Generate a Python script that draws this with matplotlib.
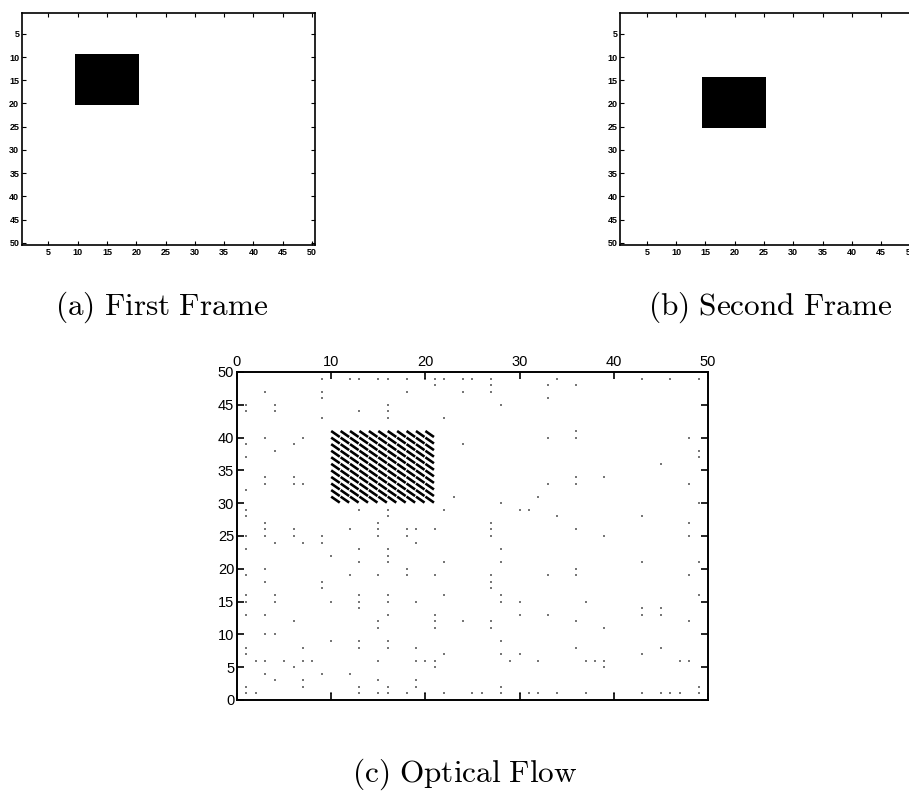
import numpy as np
import matplotlib
matplotlib.use('Agg')
import matplotlib.pyplot as plt

plt.rcParams['mathtext.fontset'] = 'cm'
plt.rcParams['font.family'] = ['Liberation Sans', 'DejaVu Sans']

# 50x50 frames, black square given by (first, last) row / column, 1-based
img_size = 50
block1_rows = (10, 20)
block1_cols = (10, 20)
block2_rows = (15, 25)
block2_cols = (15, 25)

# flow field over the moving square: one vector per grid point
flow_x = np.arange(10, 21)
flow_y = np.arange(31, 42)
flow_u = 1.0
flow_v = -1.0

# leftover tiny flow vectors (row y -> columns x)
noise_rows = {
    49: [9, 12, 13, 15, 16, 18, 20, 21, 22, 24, 25, 27, 34, 43, 46, 49],
    48: [21, 27, 33, 36],
    47: [3, 9, 18, 24, 27],
    46: [9, 33],
    45: [1, 4, 16, 28],
    44: [1, 4, 13, 16],
    43: [9, 16, 22],
    41: [36],
    40: [3, 7, 33, 36, 48],
    39: [1, 6, 24],
    38: [4, 49],
    37: [1, 49],
    36: [45],
    34: [3, 6, 36, 39],
    33: [3, 6, 7, 33, 36, 48],
    32: [1],
    31: [23, 32],
    30: [28, 49],
    29: [1, 13, 16, 22, 30, 31],
    28: [1, 16, 34, 43],
    27: [3, 15, 27, 48],
    26: [3, 6, 12, 15, 18, 19, 21, 27, 36],
    25: [1, 3, 6, 9, 15, 18, 27, 39, 48],
    24: [4, 7, 9, 19],
    23: [1, 13, 16, 28],
    22: [10, 16],
    21: [13, 16, 22, 28, 43, 49],
    20: [3, 18, 36],
    19: [1, 12, 15, 18, 21, 27, 33, 36, 48],
    18: [3, 9, 27],
    17: [9, 27],
    16: [1, 4, 13, 16, 22, 28, 49],
    15: [1, 4, 10, 13, 16, 19, 28, 30, 37],
    14: [13, 43, 45],
    13: [1, 3, 16, 21, 30, 33, 43, 45],
    12: [6, 15, 21, 24, 27, 36, 48],
    11: [15, 21, 27, 39],
    10: [3, 4],
    9: [10, 13, 16, 28],
    8: [1, 7, 13, 16, 19, 36, 45],
    7: [1, 22, 28, 30, 43],
    6: [2, 3, 5, 7, 8, 15, 19, 20, 21, 29, 32, 37, 38, 39, 47, 48],
    5: [6, 21, 39],
    4: [3, 9, 12],
    3: [4, 7, 15, 19],
    2: [1, 7, 13, 16, 19, 28, 49],
    1: [1, 2, 10, 13, 15, 16, 18, 20, 22, 25, 26, 28, 30, 31, 32, 34, 37,
        40, 43, 45, 46, 47, 49],
}

frame_ticks = list(range(5, 51, 5))
flow_xticks = list(range(0, 51, 10))
flow_yticks = list(range(0, 51, 5))


def make_frame(rows, cols):
    f = np.ones((img_size, img_size))
    f[rows[0] - 1:rows[1], cols[0] - 1:cols[1]] = 0
    return f


def draw_frame(ax, frame):
    ax.imshow(frame, cmap='gray', vmin=0, vmax=1, aspect='auto',
              interpolation='nearest',
              extent=(0.5, img_size + 0.5, img_size + 0.5, 0.5))
    ax.set_xticks(frame_ticks)
    ax.set_yticks(frame_ticks)
    ax.tick_params(direction='in', length=3, width=0.8, top=True, right=True,
                   labelsize=6.5, pad=2)
    for lab in ax.get_xticklabels() + ax.get_yticklabels():
        lab.set_fontweight('bold')
    for s in ax.spines.values():
        s.set_linewidth(1.2)


fig = plt.figure(figsize=(9.09, 7.93), dpi=100)

ax1 = fig.add_axes([0.0242, 0.691, 0.3223, 0.2926])
draw_frame(ax1, make_frame(block1_rows, block1_cols))

ax2 = fig.add_axes([0.6826, 0.691, 0.3223, 0.2926])
draw_frame(ax2, make_frame(block2_rows, block2_cols))

ax3 = fig.add_axes([0.2607, 0.1173, 0.5182, 0.4136])
gx, gy = np.meshgrid(flow_x, flow_y)
ax3.quiver(gx, gy, np.full(gx.shape, flow_u), np.full(gy.shape, flow_v),
           angles='xy', scale_units='xy', scale=1.1, pivot='tail',
           units='dots', width=2.6, headwidth=0, headlength=0,
           headaxislength=0, color='black')

nx = [x for y, xs in noise_rows.items() for x in xs]
ny = [y for y, xs in noise_rows.items() for x in xs]
ax3.scatter(nx, ny, s=0.6, marker='s', color='#777777', linewidths=0)

ax3.set_xlim(0, 50)
ax3.set_ylim(0, 50)
ax3.set_xticks(flow_xticks)
ax3.set_yticks(flow_yticks)
ax3.xaxis.tick_top()
ax3.tick_params(direction='in', length=5, width=1.2, top=True, bottom=True,
                left=True, right=True, labelsize=10.5, pad=2)
for s in ax3.spines.values():
    s.set_linewidth(1.4)

fig.text(0.178, 0.613, r'$\mathrm{(a)\ First\ Frame}$', fontsize=22.5,
         ha='center', va='center')
fig.text(0.847, 0.613, r'$\mathrm{(b)\ Second\ Frame}$', fontsize=22.5,
         ha='center', va='center')
fig.text(0.511, 0.024, r'$\mathrm{(c)\ Optical\ Flow}$', fontsize=22.5,
         ha='center', va='center')

fig.savefig('out.png', dpi=100)
